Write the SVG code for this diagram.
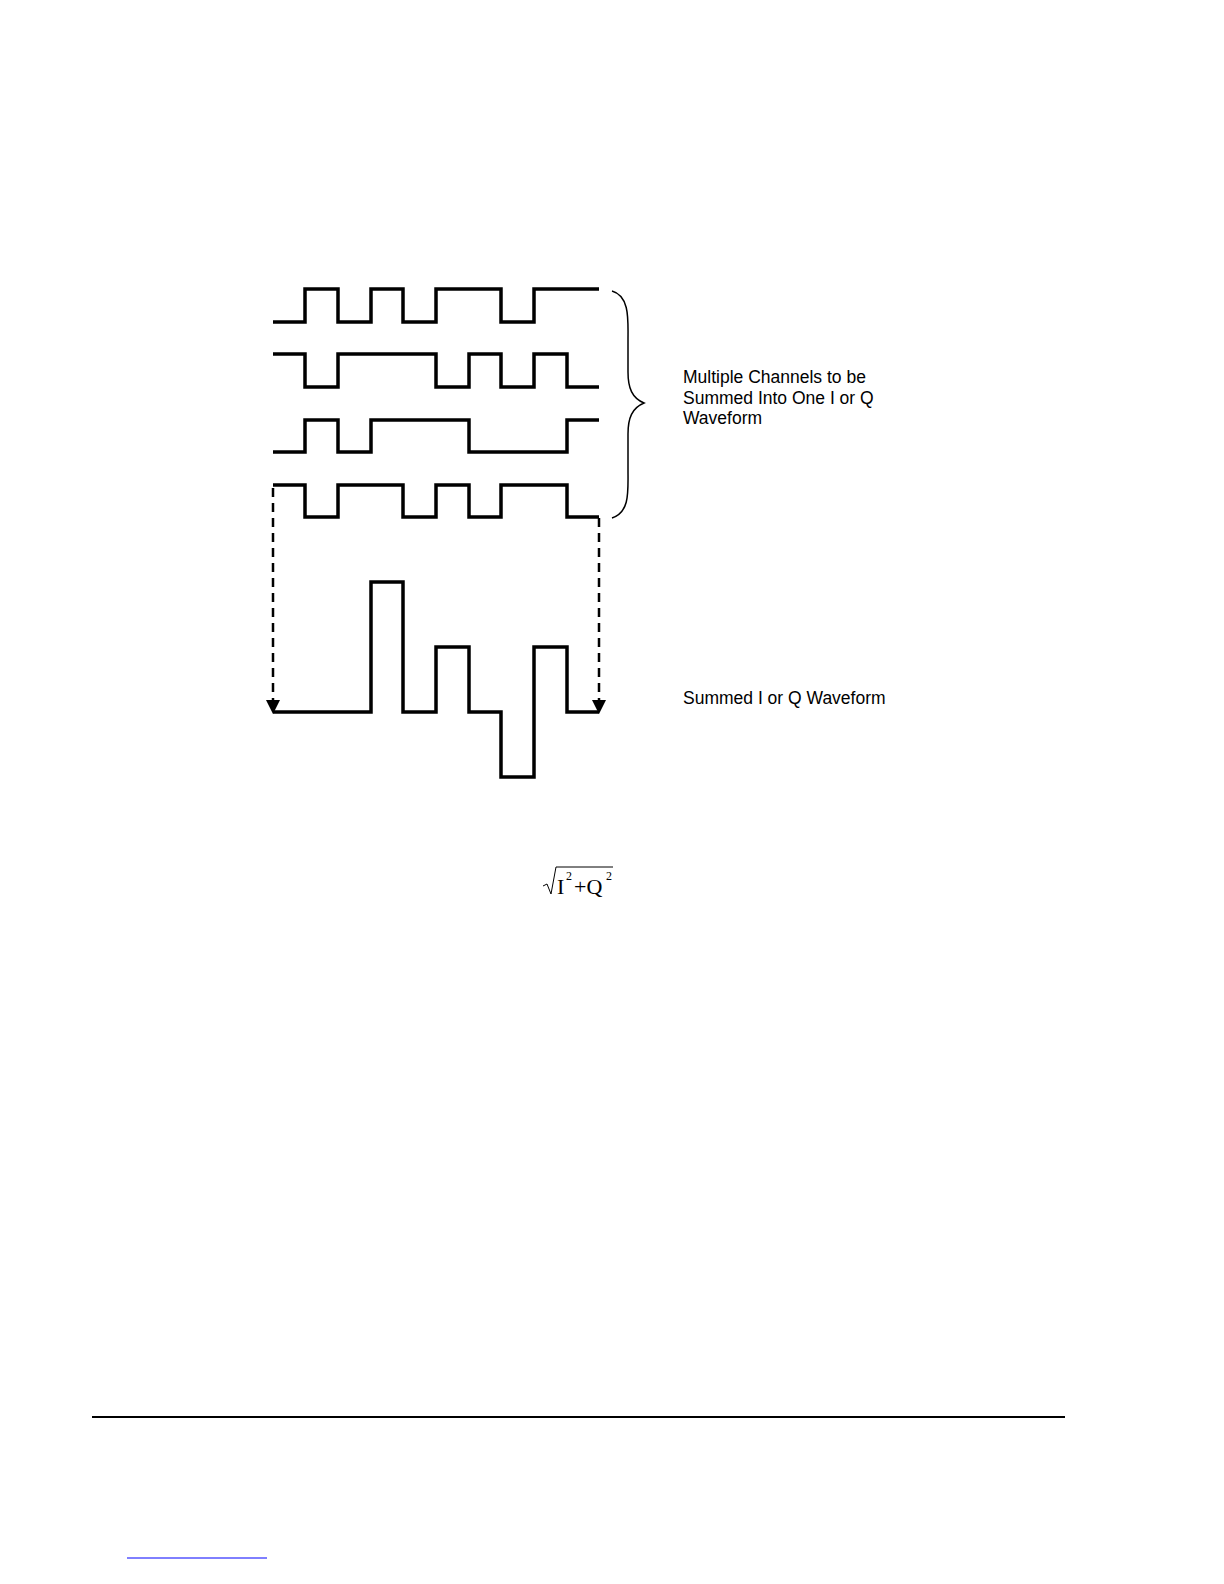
<svg xmlns="http://www.w3.org/2000/svg" width="1224" height="1584" viewBox="0 0 1224 1584">
<style>
.w{fill:none;stroke:#000;stroke-width:3.5;stroke-linejoin:miter}
.d{fill:none;stroke:#000;stroke-width:2.5;stroke-dasharray:9,6}
.t{font-family:"Liberation Sans",Arial,sans-serif;font-size:17.5px;fill:#000}
.f{font-family:"Liberation Serif","Times New Roman",serif;fill:#000}
</style>
<rect width="1224" height="1584" fill="#fff"/>
<g id="wave1"><path class="w" d="M273,322H305V289H338V322H371V289H403V322H436V289H501V322H534V289H599"/></g>
<g id="wave2"><path class="w" d="M273,354H305V387H338V354H436V387H469V354H501V387H534V354H567V387H599"/></g>
<g id="wave3"><path class="w" d="M273,452H305V420H338V452H371V420H469V452H567V420H599"/></g>
<g id="wave4"><path class="w" d="M273,485H305V517H338V485H403V517H436V485H469V517H501V485H567V517H599"/></g>
<g id="sum"><path class="w" d="M273,712H371V582H403V712H436V647H469V712H501V777H534V647H567V712H599"/></g>
<g id="connectors">
<path class="d" d="M273,488V700"/><path class="d" d="M599,518V700"/>
<path d="M266,700H280L273,714z"/><path d="M592,700H606L599,714z"/>
<path d="M612,291 C630,296 628,320 628,340 L628,372 C628,388 632,398 644,403 C632,408 628,418 628,434 L628,470 C628,492 630,512 612,518" fill="none" stroke="#000" stroke-width="1.5"/>
</g>
<g id="labels">
<text class="t" x="683" y="383">Multiple Channels to be</text>
<text class="t" x="683" y="404">Summed Into One I or Q</text>
<text class="t" x="683" y="424">Waveform</text>
<text class="t" x="683" y="704">Summed I or Q Waveform</text>
</g>
<g id="formula">
<path d="M543,886 L547,884 L551,894 L556,867 H613" fill="none" stroke="#000" stroke-width="1"/>
<text class="f" x="557" y="894" font-size="22">I</text>
<text class="f" x="566" y="880" font-size="12">2</text>
<text class="f" x="574" y="894" font-size="22">+Q</text>
<text class="f" x="606" y="880" font-size="12">2</text>
</g>
<line x1="92" y1="1417" x2="1065" y2="1417" stroke="#000" stroke-width="2"/>
<line x1="127" y1="1558" x2="267" y2="1558" stroke="#00f" stroke-width="1"/>
</svg>
